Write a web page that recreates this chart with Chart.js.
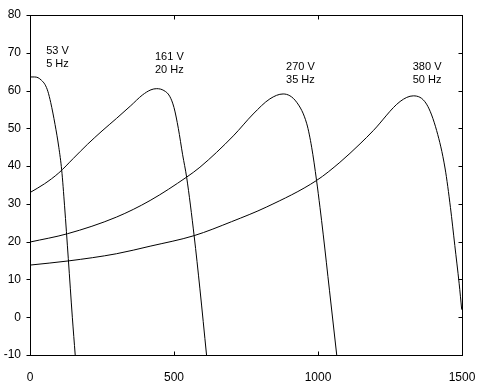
<!DOCTYPE html>
<html>
<head>
<meta charset="utf-8">
<script src="https://cdn.jsdelivr.net/npm/chart.js@4/dist/chart.umd.min.js"></script>
<style>
 html,body{margin:0;padding:0;background:#fff;}
 canvas{display:block;}
</style>
</head>
<body>
<canvas id="c" width="483" height="381"></canvas>
<script>
// speed (x) and torque (y), one pair of arrays per curve
let speed5  = [0,15,28,40,52,62,72,87,100,110,120,133,147,157];
let torque5 = [63.6,63.6,63.4,62.7,61.6,59.8,56.8,51,45,39,29.5,15.5,0,-10];

let speed20  = [0,50,100,150,200,250,300,350,390,420,440,465,485,500,515,530,544,570,590,613];
let torque20 = [33,35.3,38.2,42,45.8,49.3,52.6,56,58.8,60.2,60.5,60,58.5,55.5,50,43,37,21.5,7.5,-10];

let speed35  = [0,130,300,417,544,590,706,775,833,879,926,961,978,995,1007,1018,1040,1065];
let torque35 = [19.9,22.1,26.5,30.9,37.1,39.7,48,53.8,57.8,59.1,56.9,51.2,45,36.2,29,22,7,-10];

let speed50  = [0,133,300,417,570,700,822,995,1076,1146,1192,1285,1331,1377,1412,1441,1460,1475,1490,1499];
let torque50 = [13.8,14.9,16.8,18.8,21.6,25.3,29.2,36.2,41,45.9,49.4,57.1,58.6,56.4,49.4,39.5,29,19,9,2];

// text labels above each curve
let noteVolt = ["53 V","161 V","270 V","380 V"];
let noteFreq = ["5 Hz","20 Hz","35 Hz","50 Hz"];
let noteX    = [56,434,889,1329];
let noteY    = [69.7,68.1,65.4,65.4];

let xTicks = [0,500,1000,1500];
let yTicks = [-10,0,10,20,30,40,50,60,70,80];

function pts(xs,ys){ return xs.map((v,i)=>({x:v,y:ys[i]})); }

let font = {family:"'Liberation Sans', Arial, sans-serif", size:12};

let frame = {
  id:'frame',
  afterDatasetsDraw(chart){
    let ctx=chart.ctx, a=chart.chartArea, x=chart.scales.x, y=chart.scales.y;
    let L=Math.round(a.left)+0.5, R=Math.round(a.right)+0.5, T=Math.round(a.top)+0.5, B=Math.round(a.bottom)+0.5;
    ctx.save();
    ctx.strokeStyle='#000'; ctx.lineWidth=1;
    ctx.strokeRect(L,T,R-L,B-T);
    ctx.beginPath();
    xTicks.forEach(v=>{
      let p=Math.round(x.getPixelForValue(v))+0.5;
      ctx.moveTo(p,B); ctx.lineTo(p,B-4);
      ctx.moveTo(p,T); ctx.lineTo(p,T+4);
    });
    yTicks.forEach(v=>{
      let p=Math.round(y.getPixelForValue(v))+0.5;
      ctx.moveTo(L,p); ctx.lineTo(L-4,p);
      ctx.moveTo(R,p); ctx.lineTo(R-4,p);
    });
    ctx.stroke();
    // curve labels
    ctx.fillStyle='#000';
    ctx.font="11px 'Liberation Sans', Arial, sans-serif";
    ctx.textAlign='left'; ctx.textBaseline='alphabetic';
    noteVolt.forEach((t,i)=>{
      let px=x.getPixelForValue(noteX[i]), py=y.getPixelForValue(noteY[i]);
      ctx.fillText(t,px,py);
      ctx.fillText(noteFreq[i],px,py+13);
    });
    ctx.restore();
  }
};

let line = {borderColor:'#000', borderWidth:1, pointRadius:0, showLine:true, fill:false, cubicInterpolationMode:'monotone'};

new Chart(document.getElementById('c'),{
  type:'scatter',
  data:{datasets:[
    Object.assign({label:'5 Hz', data:pts(speed5,torque5)},line),
    Object.assign({label:'20 Hz', data:pts(speed20,torque20)},line),
    Object.assign({label:'35 Hz', data:pts(speed35,torque35)},line),
    Object.assign({label:'50 Hz', data:pts(speed50,torque50)},line)
  ]},
  options:{
    responsive:false, animation:false, devicePixelRatio:1,
    layout:{padding:{top:15,right:21,left:0,bottom:0}},
    plugins:{legend:{display:false}, tooltip:{enabled:false}},
    scales:{
      x:{type:'linear', min:0, max:1500,
         afterBuildTicks:s=>{s.ticks=xTicks.map(v=>({value:v}));},
         afterFit:s=>{s.height=26;},
         grid:{display:false}, border:{display:false},
         ticks:{color:'#000', font:font, padding:7, maxRotation:0, callback:v=>String(v)}},
      y:{min:-10, max:80,
         afterBuildTicks:s=>{s.ticks=yTicks.map(v=>({value:v}));},
         afterFit:s=>{s.width=30;},
         grid:{display:false}, border:{display:false},
         ticks:{color:'#000', font:font, padding:1, callback:v=>String(v)}}
    }
  },
  plugins:[frame]
});
</script>
</body>
</html>
